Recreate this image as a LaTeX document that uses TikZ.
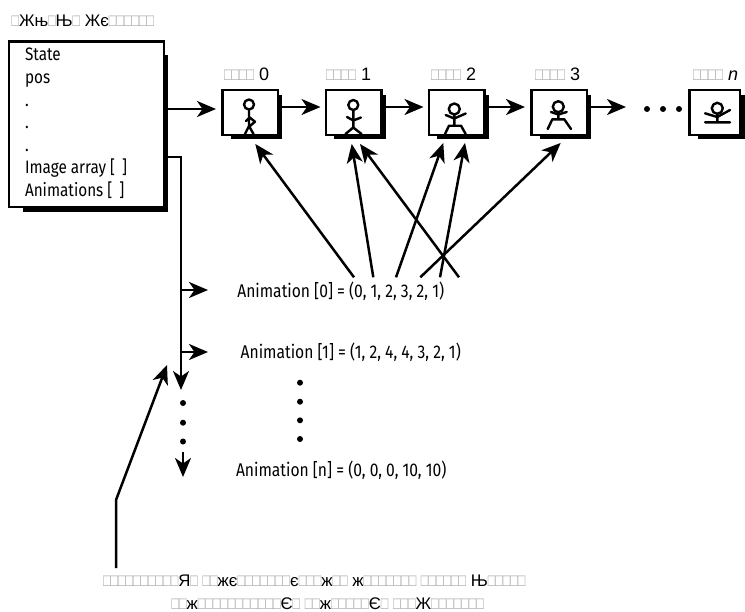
\documentclass[tikz,border=0pt]{standalone}
\usepackage{fontspec}
\usepackage{graphicx}
\usetikzlibrary{arrows.meta}
\setmainfont{Liberation Sans}
\newfontfamily\labelfont[FakeStretch=0.85]{Fira Sans}
\newfontfamily\tofufont{Liberation Sans}
\definecolor{tofugray}{gray}{0.66}
\newcommand\px{0.75pt}
% the open box glyph is set narrow, tall and pale wherever it occurs
\catcode`\□=\active
\def□{{\color{tofugray}\fontsize{9.35pt}{10pt}\tofufont\scalebox{1}[1.4]{\char"25A1}}}
\tikzset{
  ink/.style={line width=2.5*\px, draw=black},
  conn/.style={ink, -{Stealth[length=19*\px,width=16*\px,inset=5.5*\px]}},
  figline/.style={line width=2.4*\px, draw=black, line cap=round, line join=round},
  framebox/.style={draw=black, fill=white, line width=2.5*\px, inner sep=0pt,
    minimum width=55.5*\px, minimum height=44.6*\px},
  bigbox/.style={draw=black, fill=white, line width=2.5*\px, inner sep=0pt,
    minimum width=155*\px, minimum height=165.5*\px},
  plain/.style={anchor=base west, inner sep=0pt, outer sep=0pt},
  listtext/.style={plain, font=\labelfont\fontsize{13.5pt}{15pt}\selectfont},
  animtext/.style={plain, font=\labelfont\fontsize{13.8pt}{15pt}\selectfont},
  caption/.style={plain, font=\fontsize{12.6pt}{14pt}\selectfont},
  frametext/.style={plain, font=\fontsize{13.5pt}{15pt}\selectfont},
}
\begin{document}
\begin{tikzpicture}[x=0.75pt,y=-0.75pt]
\useasboundingbox (0,0) rectangle (745,611);

% drop shadows under the boxes
\fill[black] (23,55) rectangle (167.5,212);
\fill[black] (231,95) rectangle (282,139);
\fill[black] (334,95) rectangle (386,139);
\fill[black] (437,95) rectangle (489,139);
\fill[black] (540,95) rectangle (591,139);
\fill[black] (698,95) rectangle (744.5,138.5);

% title
\node[caption] (title) at (11.5,26) {□Жњ□Њ□ Жє□□□□□□};

% state record
\node[bigbox] (state) at (86.25,124) {};
\node[listtext] (lstate) at (25,60) {State};
\node[listtext] (lpos) at (25,83) {pos};
\node[listtext] (ld1) at (25,106) {.};
\node[listtext] (ld2) at (25,128) {.};
\node[listtext] (ld3) at (25,151) {.};
\node[listtext] (limg) at (25,173.5) {Image array [ \,]};
\node[listtext] (lani) at (25,196.5) {Animations [ \,]};

% image frames
\node[framebox] (f0) at (250,112.5) {};
\node[framebox] (f1) at (353.5,112.5) {};
\node[framebox] (f2) at (456.5,112.5) {};
\node[framebox] (f3) at (559,112.5) {};
\node[framebox, minimum width=50.5*\px] (fn) at (714.5,112.5) {};

\node[frametext] (t0) at (224,80) {□□□□ 0};
\node[frametext] (t1) at (326,80) {□□□□ 1};
\node[frametext] (t2) at (431,80) {□□□□ 2};
\node[frametext] (t3) at (535,80) {□□□□ 3};
\node[frametext] (tn) at (693,80) {□□□□ \textit{n}};

% stick figures, one pose per frame
\begin{scope}[figline]
  \draw (249,104.5) circle (5);
  \draw (249,110) -- (249,126) (249,117) -- (255,121.7) -- (250,126) (246,121) -- (249,118)
        (245,134) -- (249,126) -- (253.5,134);
  \draw (353.3,105) circle (5);
  \draw (353.3,110.5) -- (353.3,127.5) (347,117) -- (353.3,120.5) -- (361,117.5)
        (345.5,134) -- (353.3,127.5) -- (361.5,134);
  \draw (454.3,109) circle (5.5);
  \draw (454.3,115) -- (454.3,125.7) (445.7,115) -- (454.3,118.5) -- (465.7,113.5)
        (445,134) -- (449,125.7) -- (461,125.7) -- (465.7,134);
  \draw (558.3,106.7) circle (5.5);
  \draw (558.3,112.7) -- (558.3,119.3) (551,112) -- (558.3,114.5) -- (566.7,112)
        (547.7,129) -- (552.3,119.3) -- (564.3,119.3) -- (571,129);
  \draw (717.3,108.3) circle (5.5);
  \draw (717.3,114.3) -- (717.3,122.3) (705,113.3) -- (717.3,117) -- (730,110)
        (705,122.3) -- (730,122.3);
\end{scope}

% state record to first frame, then along the strip
\draw[conn] ([shift={(1.5,-15)}]state.east) -- ([shift={(-5,-3.5)}]f0.west);
\draw[conn] ([shift={(3,-5.5)}]f0.east) -- ([shift={(-4,-5.5)}]f1.west);
\draw[conn] ([shift={(3,-5.5)}]f1.east) -- ([shift={(-4,-5.5)}]f2.west);
\draw[conn] ([shift={(3,-5.5)}]f2.east) -- ([shift={(-5,-5.5)}]f3.west);
\coordinate (striptip) at (626,107);
\draw[conn] ([shift={(3,-5.5)}]f3.east) -- (striptip);
\fill (647,109) circle (3) (663,109) circle (3) (679,109) circle (3);

% animation table
\node[animtext] (anim0) at (237.3,297) {Animation [0] = (0, 1, 2, 3, 2, 1)};
\node[animtext] (anim1) at (240.7,358) {Animation [1] = (1, 2, 4, 4, 3, 2, 1)};
\node[animtext] (animn) at (236,476.5) {Animation [n] = (0, 0, 0, 10, 10)};
\fill (300,382.7) circle (3) (300,401.7) circle (3) (300,420.3) circle (3) (300,439) circle (3);

% frame references of Animation [0]
\coordinate (ra) at (354,277.3);
\coordinate (rb) at (373.3,277.3);
\coordinate (rc) at (396,277.3);
\coordinate (rd) at (420.3,277.3);
\coordinate (re) at (440,277.3);
\coordinate (rf) at (459,277.3);
\draw[conn] (ra) -- ([shift={(5.3,7.9)}]f0.south);
\draw[conn] (rb) -- ([shift={(-1.8,7.9)}]f1.south);
\draw[conn] (rf) -- ([shift={(6.5,7.9)}]f1.south);
\draw[conn] (rc) -- ([shift={(-13.2,6.9)}]f2.south);
\draw[conn] (re) -- ([shift={(8.5,6.9)}]f2.south);
\draw[conn] (rd) -- ([shift={(1.7,6.9)}]f3.south);

% animation list pointer
\coordinate (busend) at (181,390);
\coordinate (bus0) at (181,290);
\coordinate (bus1) at (181,352);
\coordinate (tip0) at (208,290);
\coordinate (tip1) at (208,352);
\draw[conn] ([shift={(1.5,33)}]state.east) -- (181,157) -- (busend);
\draw[conn] (bus0) -- (tip0);
\draw[conn] (bus1) -- (tip1);
\fill (183,403) circle (3) (183,422.7) circle (3) (183,441.5) circle (3);
\coordinate (tailtop) at (183,452);
\coordinate (tailend) at (183,477);
\draw[conn] (tailtop) -- (tailend);

% note and its pointer
\node[caption] (note1) at (103,586.3) {□□□□□□□□□□Я□ □□жє□□□□□□□є□□□ж□□ ж□□□□□□□ □□□□□□ Њ□□□□□};
\node[caption] (note2) at (171.5,609.3) {□□ж□□□□□□□□□□□Є□ □□ж□□□□□Є□ □□□Ж□□□□□□□};
\coordinate (ptrbase) at (116,568);
\coordinate (ptrtip) at (167,365);
\draw[conn] (ptrbase) -- (116,500) -- (ptrtip);
\end{tikzpicture}
\end{document}
